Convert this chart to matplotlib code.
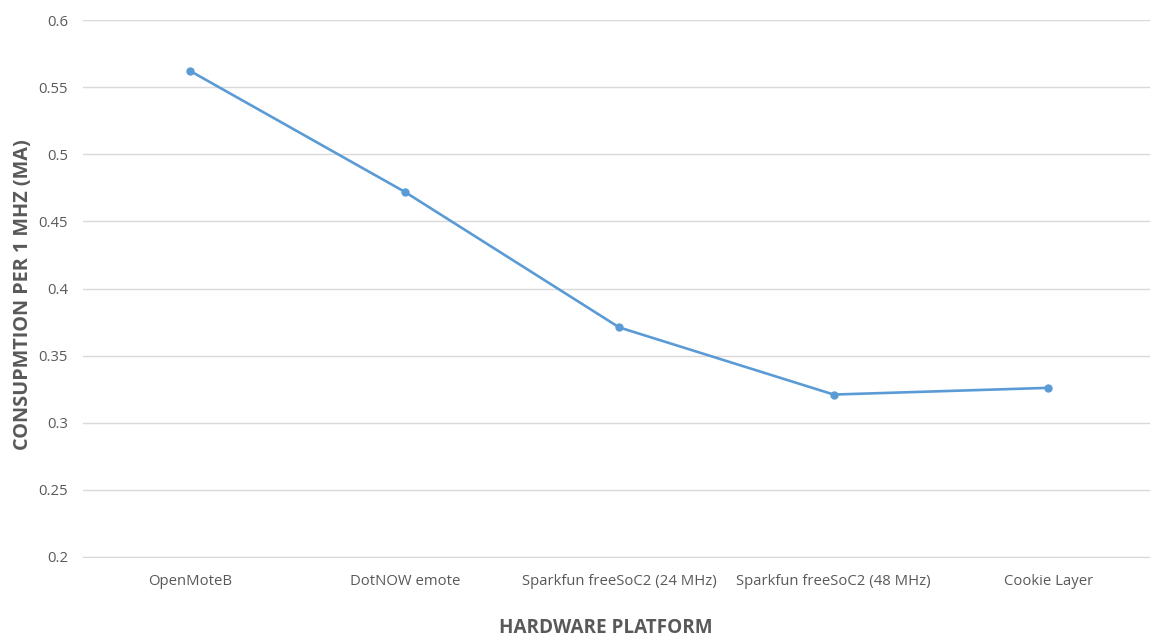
import matplotlib
matplotlib.use("Agg")
import matplotlib.pyplot as plt

platforms = ["OpenMoteB", "DotNOW emote", "Sparkfun freeSoC2 (24 MHz)",
             "Sparkfun freeSoC2 (48 MHz)", "Cookie Layer"]
consumption = [0.562, 0.472, 0.371, 0.321, 0.326]
y_ticks = [0.2, 0.25, 0.3, 0.35, 0.4, 0.45, 0.5, 0.55, 0.6]
y_tick_labels = ["0.2", "0.25", "0.3", "0.35", "0.4", "0.45", "0.5", "0.55", "0.6"]

plt.rcParams["font.family"] = ["Open Sans", "DejaVu Sans"]
text_color = "#595959"

W, H = 1150, 637
fig = plt.figure(figsize=(W / 100, H / 100), dpi=100)
left, right, top, bottom = 83, 1150, 20, 557
ax = fig.add_axes([left / W, 1 - bottom / H, (right - left) / W, (bottom - top) / H])

x = list(range(len(platforms)))
ax.plot(x, consumption, color="#5B9BD5", linewidth=1.9, marker="o",
        markersize=5, markerfacecolor="#5B9BD5", markeredgecolor="#5B9BD5",
        solid_capstyle="round", zorder=3)

ax.set_ylim(0.2, 0.6)
ax.set_xlim(-0.5, -0.5 + (right - left) / 214.5)
ax.set_yticks(y_ticks)
ax.set_yticklabels(y_tick_labels)
ax.set_xticks(x)
ax.set_xticklabels(platforms)
ax.grid(axis="y", color="#D9D9D9", linewidth=1.0)
ax.set_axisbelow(True)
for s in ax.spines.values():
    s.set_visible(False)
ax.spines["bottom"].set_visible(True)
ax.spines["bottom"].set_color("#D9D9D9")
ax.tick_params(axis="both", length=0, colors=text_color, labelsize=10.7)
ax.tick_params(axis="y", pad=10.8)
ax.tick_params(axis="x", pad=12.5)

fig.text(606 / W, 1 - 628 / H, "HARDWARE PLATFORM", ha="center", va="center",
         fontsize=13.6, fontweight="bold", color=text_color)
fig.text(23 / W, 1 - 295 / H, "CONSUPMTION PER 1 MHZ (MA)", ha="center", va="center",
         rotation=90, fontsize=14.3, fontweight="bold", color=text_color)

fig.savefig("out.png", dpi=100, facecolor="white")
